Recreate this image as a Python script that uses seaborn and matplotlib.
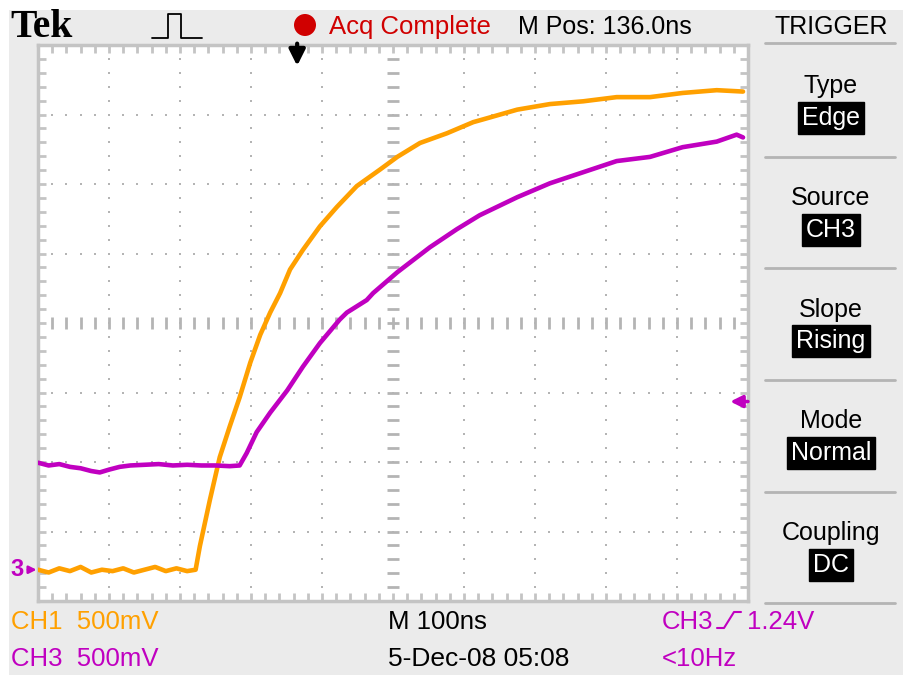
import numpy as np
import pandas as pd
import matplotlib
matplotlib.use('Agg')
import matplotlib.pyplot as plt
from matplotlib.lines import Line2D
from matplotlib.patches import Rectangle, Ellipse
import seaborn as sns

# CH1 (laranja) - tempo em ns, tensao em V (acima do nivel de terra)
ch1_t = [0, 15, 30, 45, 60, 75, 90, 105, 120, 135, 150, 165, 180, 195, 210, 222,
         228, 242, 256, 270, 284, 299, 313, 327, 341, 355, 373, 397, 421, 449, 482,
         506, 538, 576, 613, 627, 675, 721, 768, 815, 862, 908, 956, 993]
ch1_v = [0.0, -0.02, 0.01, -0.01, 0.02, -0.02, 0.0, -0.01, 0.01, -0.02, 0.0, 0.02, -0.01, 0.01, -0.01, 0.0,
         0.17, 0.50, 0.81, 1.03, 1.24, 1.49, 1.69, 1.85, 1.99, 2.16, 2.30, 2.47, 2.61, 2.76, 2.88,
         2.97, 3.07, 3.14, 3.22, 3.24, 3.31, 3.35, 3.37, 3.40, 3.40, 3.43, 3.45, 3.44]

# CH3 (magenta)
ch3_t = [0, 15, 30, 45, 60, 75, 87, 100, 115, 130, 150, 170, 190, 210, 230, 250, 270, 284,
         294, 308, 327, 351, 373, 397, 425, 435, 463, 472, 506, 552, 590, 622, 675, 721,
         768, 815, 862, 908, 956, 984, 993]
ch3_v = [0.77, 0.75, 0.76, 0.74, 0.73, 0.71, 0.70, 0.72, 0.74, 0.75, 0.755, 0.76, 0.75, 0.755, 0.75, 0.75, 0.745, 0.75,
         0.84, 0.99, 1.13, 1.29, 1.46, 1.63, 1.80, 1.85, 1.94, 1.99, 2.14, 2.32, 2.45, 2.55, 2.68, 2.78,
         2.86, 2.94, 2.97, 3.04, 3.08, 3.13, 3.11]

# configuracao do osciloscopio
ns_por_div = 100
v_por_div = 0.5
terra_div = -3.55          # posicao do terra relativa ao centro (div)
nivel_trigger = 1.21       # V
pos_trigger = 365          # ns

titulos_painel = ['Type', 'Source', 'Slope', 'Mode', 'Coupling']
valores_painel = ['Edge', 'CH3', 'Rising', 'Normal', 'DC']

LARANJA = '#ffa000'
MAGENTA = '#c000c0'
VERMELHO = '#d00000'
CINZA = '#ebebeb'
GRADE = '#b4b4b4'

W, H = 904, 675
fx = lambda px: px / W
fy = lambda py: 1 - py / H

sns.set_theme(style='white')
plt.rcParams['font.family'] = ['Liberation Sans', 'DejaVu Sans']

fig = plt.figure(figsize=(W / 100, H / 100), dpi=100)
fig.patch.set_facecolor('white')
fig.add_artist(Rectangle((fx(9), 0), 1, fy(10), transform=fig.transFigure,
                         facecolor=CINZA, edgecolor='none', zorder=-10))

ax = fig.add_axes([fx(38), fy(601), fx(748) - fx(38), fy(45) - fy(601)])
ax.set_facecolor('white')
ymin = (-4 - terra_div) * v_por_div
ymax = (4 - terra_div) * v_por_div
ax.set_xlim(0, 10 * ns_por_div)
ax.set_ylim(ymin, ymax)

# reticulado pontilhado
sub = np.arange(0, 10.01, 0.2)
subv = np.arange(0, 8.01, 0.2)
for i in range(1, 10):
    if i == 5:
        continue
    ax.scatter(np.full(len(subv), i / 10), subv / 8, s=3, marker='s', color=GRADE,
               linewidths=0, transform=ax.transAxes, zorder=1)
for j in range(1, 8):
    if j == 4:
        continue
    ax.scatter(sub / 10, np.full(len(sub), j / 8), s=3, marker='s', color=GRADE,
               linewidths=0, transform=ax.transAxes, zorder=1)
# eixos centrais com marcas
ax.plot(np.full(len(subv), 0.5), subv / 8, ls='none', marker='_', ms=8, mew=2,
        color=GRADE, transform=ax.transAxes, zorder=1)
ax.plot(sub / 10, np.full(len(sub), 0.5), ls='none', marker='|', ms=8, mew=2,
        color=GRADE, transform=ax.transAxes, zorder=1)

ax.set_xticks(np.arange(0, 1000.1, 20))
ax.set_yticks(ymin + np.arange(0, 8.01, 0.2) * v_por_div)
ax.tick_params(direction='in', length=6, width=2, color='#c4c4c4', top=True, right=True,
               bottom=True, left=True, labelbottom=False, labelleft=False)
for s in ax.spines.values():
    s.set_color('#c4c4c4')
    s.set_linewidth(2.5)

df1 = pd.DataFrame({'t': ch1_t, 'v': ch1_v})
df3 = pd.DataFrame({'t': ch3_t, 'v': ch3_v})
sns.lineplot(data=df1, x='t', y='v', color=LARANJA, lw=3.3, sort=False, estimator=None, ax=ax, zorder=3)
sns.lineplot(data=df3, x='t', y='v', color=MAGENTA, lw=3.3, sort=False, estimator=None, ax=ax, zorder=4)
ax.set_xlabel('')
ax.set_ylabel('')

# marcadores
ax.annotate('', xy=(pos_trigger, ymax - 0.15), xytext=(pos_trigger, ymax + 0.01),
            arrowprops=dict(arrowstyle='-|>', color='black', lw=3, mutation_scale=24,
                            shrinkA=0, shrinkB=0),
            annotation_clip=False, zorder=5)
ax.annotate('', xy=(975, nivel_trigger), xytext=(1000, nivel_trigger),
            arrowprops=dict(arrowstyle='-|>', color=MAGENTA, lw=2.5, mutation_scale=18,
                            shrinkA=0, shrinkB=0),
            annotation_clip=False, zorder=5)
ax.annotate('3', xy=(-2, 0), xytext=(-20, 0), textcoords='offset pixels',
            ha='center', va='center', fontsize=17, fontweight='bold', color=MAGENTA,
            arrowprops=dict(arrowstyle='-|>', color=MAGENTA, lw=1.8, mutation_scale=11,
                            shrinkA=1, shrinkB=0),
            annotation_clip=False)

# cabecalho
fig.text(fx(10), fy(37), 'Tek', family='Liberation Serif', fontweight='bold', fontsize=28.5,
         color='black', va='baseline')
fig.add_artist(Line2D([fx(p) for p in [152, 168, 168, 181, 181, 202]],
                      [fy(p) for p in [38, 38, 14, 14, 38, 38]],
                      color='black', lw=1.3, transform=fig.transFigure))
fig.add_artist(Ellipse((fx(305), fy(25)), 22 / W, 22 / H, transform=fig.transFigure,
                       facecolor=VERMELHO, edgecolor='none'))
fig.text(fx(329), fy(34), 'Acq Complete', color=VERMELHO, fontsize=18.5, va='baseline')
fig.text(fx(518), fy(34), 'M Pos: 136.0ns', color='black', fontsize=18, va='baseline')

# painel de trigger
cx = fx(831)
fig.text(cx, fy(34), 'TRIGGER', color='black', fontsize=18, ha='center', va='baseline')
fig.add_artist(Line2D([fx(765), fx(895)], [fy(43)] * 2, color=GRADE, lw=2,
                      transform=fig.transFigure))
base_titulos = [93, 205, 317, 428, 540]
centro_valores = [118, 230, 341, 453, 565]
for tit, val, yb, yc in zip(titulos_painel, valores_painel, base_titulos, centro_valores):
    fig.text(cx, fy(yb), tit, color='black', fontsize=18, ha='center', va='baseline')
    fig.text(cx, fy(yc), val, color='white', fontsize=18, ha='center', va='center',
             bbox=dict(boxstyle='square,pad=0.16', facecolor='black', edgecolor='black'))
for ys in [157, 268, 380, 492, 603]:
    fig.add_artist(Line2D([fx(765), fx(895)], [fy(ys)] * 2, color=GRADE, lw=2,
                          transform=fig.transFigure))

# rodape
fig.text(fx(11), fy(629), 'CH1  500mV', color=LARANJA, fontsize=18.5, va='baseline')
fig.text(fx(11), fy(666), 'CH3  500mV', color=MAGENTA, fontsize=18.5, va='baseline')
fig.text(fx(388), fy(629), 'M 100ns', color='black', fontsize=18.5, va='baseline')
fig.text(fx(388), fy(666), '5-Dec-08 05:08', color='black', fontsize=19, va='baseline')
fig.text(fx(662), fy(629), 'CH3', color=MAGENTA, fontsize=18.5, va='baseline')
fig.add_artist(Line2D([fx(p) for p in [717, 724, 734, 741]], [fy(p) for p in [628, 628, 612, 612]],
                      color=MAGENTA, lw=1.5, transform=fig.transFigure))
fig.text(fx(747), fy(629), '1.24V', color=MAGENTA, fontsize=18.5, va='baseline')
fig.text(fx(662), fy(666), '<10Hz', color=MAGENTA, fontsize=18.5, va='baseline')

fig.savefig('out.png', dpi=100)
plt.close(fig)
